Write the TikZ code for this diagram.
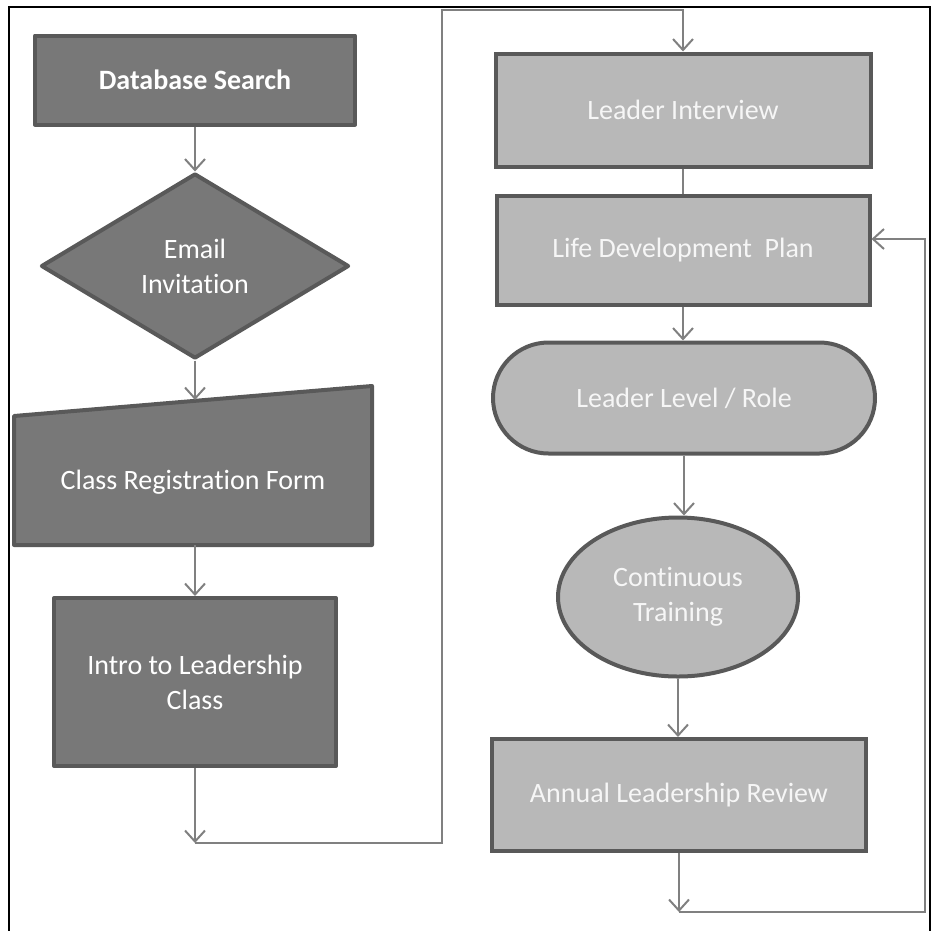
\documentclass[tikz,border=0pt]{standalone}
\usepackage{fontspec}
\setmainfont{Carlito}[RawFeature={-liga;-clig;-calt}]
\usetikzlibrary{arrows.meta,shapes.geometric,shapes.misc}
\definecolor{darkfill}{HTML}{787878}
\definecolor{lightfill}{HTML}{B8B8B8}
\definecolor{bordc}{HTML}{595959}
\definecolor{connc}{HTML}{808080}
\definecolor{lighttext}{HTML}{F6F6F6}
\begin{document}
\begin{tikzpicture}[x=1pt,y=-1pt,
  every node/.style={font=\fontsize{28}{35}\selectfont, align=center, inner sep=0pt},
  darkshape/.style={draw=bordc, line width=4pt, fill=darkfill, line join=round},
  darkbox/.style={darkshape, rectangle, text=white},
  lightbox/.style={draw=bordc, line width=4pt, fill=lightfill, text=lighttext, rectangle},
  txt/.style={text=white},
  conn/.style={draw=connc, line width=2pt},
  arr/.style={conn, -{Straight Barb[length=11pt,width=20pt,line width=2pt]}}
]
\useasboundingbox (0,0) rectangle (932,930);
\draw[black, line width=2.2pt] (9,940) -- (9,7) -- (930,7) -- (930,940);

% left column
\node[darkbox, minimum width=320pt, minimum height=89pt, font=\fontsize{28}{35}\selectfont\bfseries] (db) at (195,80) {Database Search};
\node[darkshape, diamond, text=white, minimum width=308pt, minimum height=185pt] (em) at (195,266) {Email\\Invitation};
\draw[darkshape] (14,416) -- (372,386) -- (372,545) -- (14,545) -- cycle;
\node[txt] (crf) at (193,482) {Class Registration Form};
\coordinate (crftop) at (195,400);
\coordinate (crfbot) at (195,545);
\node[darkbox, minimum width=282pt, minimum height=168pt] (intro) at (195,682) {Intro to Leadership\\Class};
\coordinate (j1) at (intro.south |- 0,843);
\coordinate (c1) at (442,10);

% right column
\node[lightbox, minimum width=375pt, minimum height=113pt] (li) at (683,110) {Leader Interview};
\node[lightbox, minimum width=373pt, minimum height=109pt] (ldp) at (683,250) {Life Development~ Plan};
\node[lightbox, rounded rectangle, minimum width=382pt, minimum height=111pt] (llr) at (684,398) {Leader Level / Role};
\node[lightbox, ellipse, minimum width=240pt, minimum height=159pt] (ct) at (678,597) {Continuous\\Training};
\node[lightbox, minimum width=374pt, minimum height=112pt] (alr) at (679,795) {Annual Leadership Review};
\coordinate (j2) at (alr.south |- 0,912);
\coordinate (c2) at (925,239);

% connectors
\draw[arr] (db.south) -- (em.north);
\draw[arr] (em.south) -- (crftop);
\draw[arr] (crfbot) -- (intro.north);
\draw[arr] (intro.south) -- (j1);
\draw[arr] (j1) -| (c1) -| (li.north);
\draw[conn] (li.south) -- (ldp.north);
\draw[arr] (ldp.south) -- (ldp.south |- llr.north);
\draw[arr] (llr.south) -- (llr.south |- ct.north);
\draw[arr] (ct.south) -- (ct.south |- alr.north);
\draw[arr] (alr.south) -- (j2);
\draw[arr] (j2) -| (c2) -- (c2 -| ldp.east);
\end{tikzpicture}
\end{document}
